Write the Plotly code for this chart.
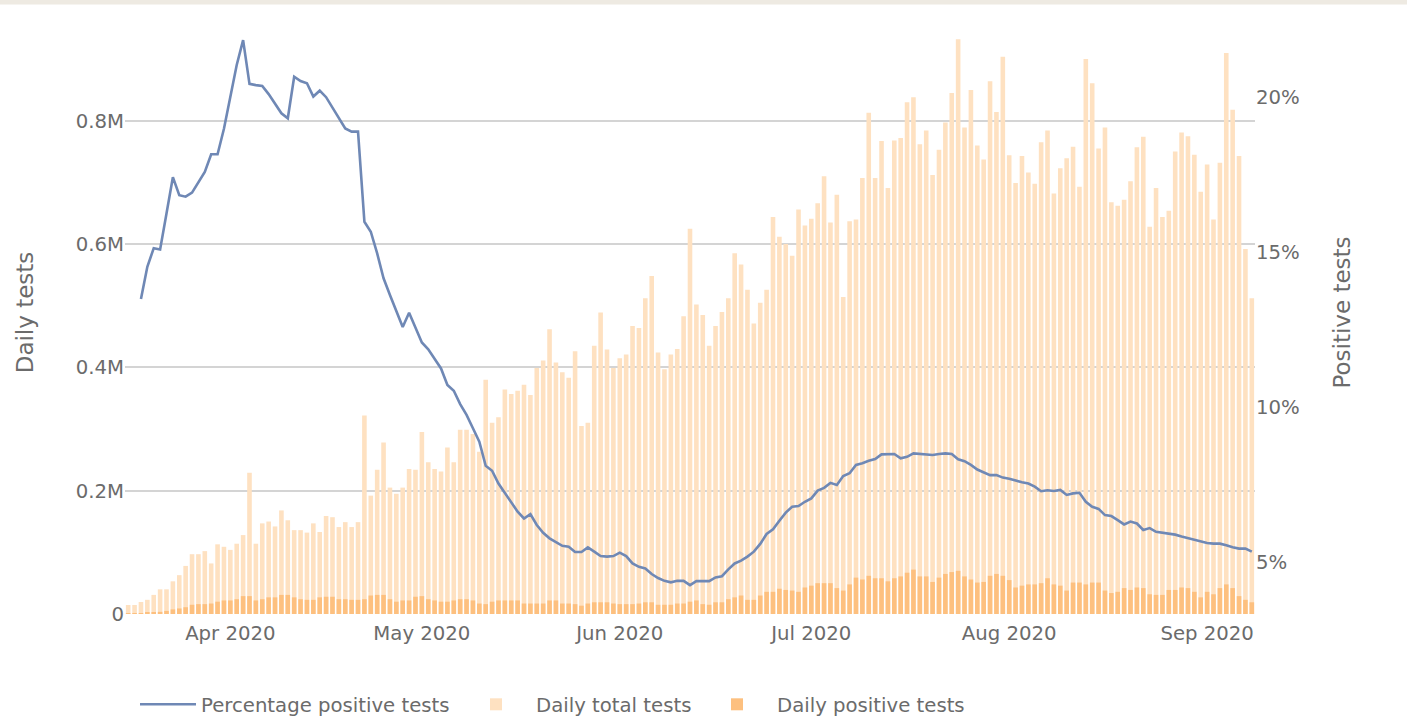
import pandas as pd
import plotly.graph_objects as go

# Daily tests (thousands), one value per day starting 16 Mar 2020
first_day = "2020-03-16"
daily_total_k = [
    # March 16-31
    14.6, 14.6, 19.5, 23, 31, 40, 40, 53, 63, 78, 97, 97, 102, 82, 113, 109,
    # April
    104, 114, 128, 229, 114, 147, 150, 142, 168, 152,
    136, 136, 132, 147, 133, 159, 157, 141, 149, 141,
    149, 322, 192, 234, 278, 205, 195, 205, 235, 234,
    # May
    295, 246, 235, 231, 270, 246, 299, 299, 292, 263,
    380, 310, 319, 364, 357, 362, 372, 355, 399, 411,
    462, 408, 392, 383, 426, 305, 310, 435, 489, 429,
    399,
    # June
    415, 421, 467, 464, 512, 548, 424, 397, 421, 430,
    483, 625, 502, 485, 435, 467, 490, 512, 585, 567,
    526, 471, 505, 526, 644, 612, 600, 581, 656, 630,
    # July
    641, 666, 710, 635, 680, 514, 637, 640, 707, 813,
    707, 767, 691, 768, 772, 830, 838, 762, 784, 712,
    753, 797, 845, 932, 789, 850, 760, 737, 864, 814,
    904,
    # August
    744, 699, 743, 716, 698, 765, 784, 682, 723, 739,
    758, 693, 900, 861, 755, 789, 668, 662, 672, 702,
    757, 774, 628, 691, 644, 654, 750, 781, 775, 745,
    685,
    # September 1-8
    729, 640, 732, 910, 818, 743, 592, 512,
]

daily_positive_k = [
    # March 16-31
    1, 1, 1.5, 2, 3, 3.5, 5, 7.5, 9, 11, 15, 16, 16, 17, 20, 22,
    # April
    22, 24, 29, 29, 22, 24, 27, 27, 31, 31,
    27, 24, 23, 23, 27, 28, 28, 24, 24, 23,
    23, 24, 30, 31, 31, 24, 20, 22, 22, 28,
    # May
    29, 24, 22, 20, 20, 22, 24, 24, 22, 17,
    16, 20, 22, 22, 22, 22, 17, 17, 17, 17,
    22, 22, 17, 17, 16, 13.5, 17, 19, 19, 19,
    17,
    # June
    16, 16, 16, 17, 19, 19, 15, 15, 15, 17,
    17, 20, 22, 16, 15, 19, 19, 24, 27, 30,
    23, 23, 30, 36, 36, 41, 39, 38, 36, 43,
    # July
    46, 50, 50, 50, 42, 38, 48, 59, 56, 62,
    58, 58, 53, 58, 61, 67, 72, 61, 61, 52,
    59, 65, 68, 70, 61, 56, 51, 52, 62, 65,
    62,
    # August
    55, 43, 46, 48, 48, 50, 58, 48, 46, 38,
    51, 51, 48, 51, 51, 38, 34, 36, 42, 39,
    43, 42, 32, 31, 31, 39, 39, 43, 42, 36,
    27,
    # September 1-8
    36, 32, 42, 48, 42, 29, 23, 19,
]

# Share of positive tests (%), starting 18 Mar 2020
pct_first_day = "2020-03-18"
pct_positive = [
    # March 18-31
    13.5, 14.54, 15.14, 15.1, 16.26, 17.43, 16.85, 16.8, 16.93, 17.25,
    17.6, 18.17, 18.17, 18.99,
    # April
    20.03, 21.05, 21.85, 20.44, 20.4, 20.37, 20.11, 19.79, 19.49, 19.33,
    20.67, 20.53, 20.46, 20.03, 20.22, 20.01, 19.68, 19.36, 19.0, 18.9,
    18.9, 15.99, 15.67, 14.97, 14.17, 13.63, 13.09, 12.6, 13.06, 12.55,
    # May
    12.1, 11.88, 11.59, 11.26, 10.73, 10.54, 10.11, 9.76, 9.33, 8.9,
    8.12, 7.96, 7.55, 7.25, 6.98, 6.64, 6.42, 6.56, 6.21, 5.96,
    5.78, 5.65, 5.54, 5.51, 5.34, 5.34, 5.49, 5.35, 5.21, 5.19,
    5.21,
    # June
    5.32, 5.21, 4.97, 4.86, 4.81, 4.63, 4.5, 4.41, 4.36, 4.41,
    4.41, 4.27, 4.4, 4.4, 4.4, 4.52, 4.56, 4.78, 4.97, 5.06,
    5.19, 5.35, 5.6, 5.92, 6.07, 6.35, 6.61, 6.8, 6.82, 6.96,
    # July
    7.07, 7.32, 7.41, 7.57, 7.5, 7.79, 7.88, 8.15, 8.2, 8.28,
    8.34, 8.49, 8.5, 8.5, 8.36, 8.41, 8.52, 8.51, 8.5, 8.47,
    8.5, 8.52, 8.5, 8.33, 8.27, 8.15, 8.0, 7.9, 7.82, 7.82,
    7.74,
    # August
    7.7, 7.64, 7.59, 7.55, 7.45, 7.3, 7.33, 7.31, 7.34, 7.18,
    7.23, 7.25, 6.96, 6.8, 6.73, 6.53, 6.5, 6.37, 6.23, 6.32,
    6.26, 6.05, 6.11, 5.99, 5.96, 5.94, 5.9, 5.84, 5.79, 5.74,
    5.68,
    # September 1-8
    5.63, 5.61, 5.61, 5.56, 5.49, 5.45, 5.45, 5.35,
]

tests_tick_vals = [0, 200, 400, 600, 800]
tests_tick_text = ["0", "0.2M", "0.4M", "0.6M", "0.8M"]
pct_tick_vals = [5, 10, 15, 20]
pct_tick_text = ["5%", "10%", "15%", "20%"]

days = pd.date_range(first_day, periods=len(daily_total_k), freq="D")
pct_days = pd.date_range(pct_first_day, periods=len(pct_positive), freq="D")

TEXT = "#6b6b6b"
FONT = "DejaVu Sans"
FS = 19.7

fig = go.Figure()
fig.add_trace(go.Scatter(
    x=pct_days, y=pct_positive, name="Percentage positive tests",
    yaxis="y2", mode="lines", legend="legend",
    line=dict(color="#6f88b5", width=2.6),
))
fig.add_trace(go.Bar(
    x=days, y=daily_total_k, name="Daily total tests", legend="legend2",
    marker=dict(color="#fee1c1", line=dict(width=0)),
))
fig.add_trace(go.Bar(
    x=days, y=daily_positive_k, name="Daily positive tests", legend="legend3",
    marker=dict(color="#fdc07f", line=dict(width=0)),
))

W, H = 1407, 716
ML, MR, MT, MB = 125, 152, 11, 102
pw, ph = W - ML - MR, H - MT - MB


def legend_at(px_left, item_w):
    # one legend entry placed at a given pixel column under the plot
    return dict(
        orientation="h", x=(px_left - ML) / pw, xanchor="left",
        y=-(685 - (H - MB)) / ph, yanchor="top",
        font=dict(size=FS, color=TEXT), itemwidth=item_w,
        bgcolor="rgba(0,0,0,0)",
    )


fig.update_layout(
    width=W, height=H,
    margin=dict(l=ML, r=MR, t=MT, b=MB, autoexpand=False),
    paper_bgcolor="white", plot_bgcolor="white",
    font=dict(family=FONT, size=FS, color=TEXT),
    barmode="overlay", bargap=0.28,
    showlegend=True,
    legend=legend_at(135, 56),
    legend2=legend_at(456, 70),
    legend3=legend_at(697, 70),
    xaxis=dict(
        type="date",
        range=["2020-03-15 12:00", "2020-09-08 12:00"],
        tickformat="%b %Y", dtick="M1", tick0="2020-04-01",
        showgrid=False, zeroline=False, showline=False,
        ticks="", ticklabelstandoff=5,
        tickfont=dict(size=FS, color=TEXT),
    ),
    yaxis=dict(
        range=[0, 978],
        tickvals=tests_tick_vals, ticktext=tests_tick_text,
        showgrid=True, gridcolor="#d4d4d4", gridwidth=1.6,
        zeroline=False, showline=False, ticks="",
        tickfont=dict(size=FS, color=TEXT),
        title=dict(text="Daily tests", font=dict(size=23, color=TEXT), standoff=35),
    ),
    yaxis2=dict(
        overlaying="y", side="right",
        range=[3.34, 22.79],
        tickvals=pct_tick_vals, ticktext=pct_tick_text,
        showgrid=False, zeroline=False, showline=False, ticks="",
        tickfont=dict(size=FS, color=TEXT),
        title=dict(text="Positive tests", font=dict(size=23, color=TEXT), standoff=35),
    ),
    shapes=[dict(
        type="rect", xref="paper", yref="paper",
        x0=-ML / pw, x1=1 + MR / pw,
        y0=1 + (MT - 4.5) / ph, y1=1 + MT / ph,
        fillcolor="#eeeae2", line=dict(width=0), layer="below",
    )],
)

fig.write_html("out.html")
